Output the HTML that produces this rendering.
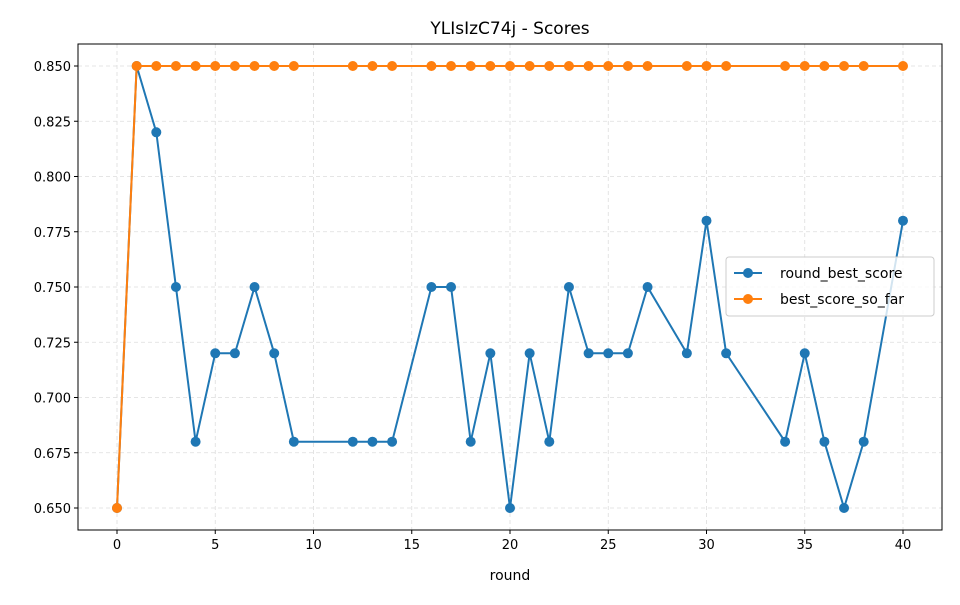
<!DOCTYPE html>
<html><head><meta charset="utf-8"><style>
body{margin:0;background:#fff;font-family:"Liberation Sans","DejaVu Sans",sans-serif}
svg text{font-family:"DejaVu Sans","Liberation Sans",sans-serif;fill:#000}
</style></head><body>
<svg id="chart" width="960" height="600"></svg>
<script>
const rounds=[0,1,2,3,4,5,6,7,8,9,12,13,14,16,17,18,19,20,21,22,23,24,25,26,27,29,30,31,34,35,36,37,38,40];
const roundBest=[0.65,0.85,0.82,0.75,0.68,0.72,0.72,0.75,0.72,0.68,0.68,0.68,0.68,0.75,0.75,0.68,0.72,0.65,0.72,0.68,0.75,0.72,0.72,0.72,0.75,0.72,0.78,0.72,0.68,0.72,0.68,0.65,0.68,0.78];
const bestSoFar=[0.65,0.85,0.85,0.85,0.85,0.85,0.85,0.85,0.85,0.85,0.85,0.85,0.85,0.85,0.85,0.85,0.85,0.85,0.85,0.85,0.85,0.85,0.85,0.85,0.85,0.85,0.85,0.85,0.85,0.85,0.85,0.85,0.85,0.85];
const xTicks=[0,5,10,15,20,25,30,35,40];
const yTicks=[0.65,0.675,0.7,0.725,0.75,0.775,0.8,0.825,0.85];
const L=78,R=942,T=44,B=530;
const X=v=>117+(v-0)*(903-117)/40;
const Y=v=>508-(v-0.65)*(508-66)/0.2;
const svg=document.getElementById('chart');
const NS='http://www.w3.org/2000/svg';
function mk(t,a,p){const e=document.createElementNS(NS,t);for(const k in a)e.setAttribute(k,a[k]);(p||svg).appendChild(e);return e;}
let e;
e=mk('text',{x:510,y:34,'text-anchor':'middle','font-size':17});e.textContent='YLIsIzC74j - Scores';


xTicks.forEach(t=>{const x=X(t);
e=mk('line',{x1:x,x2:x,y1:T,y2:B,stroke:'#ddd','stroke-dasharray':'4,3','stroke-width':0.8});


mk('line',{x1:x,x2:x,y1:B,y2:B+4,stroke:'#000'});
e=mk('text',{x:x,y:B+19,'text-anchor':'middle','font-size':13});e.textContent=t;

});
yTicks.forEach(t=>{const y=Y(t);
e=mk('line',{x1:L,x2:R,y1:y,y2:y,stroke:'#ddd','stroke-dasharray':'4,3','stroke-width':0.8});


mk('line',{x1:L-4,x2:L,y1:y,y2:y,stroke:'#000'});
e=mk('text',{x:L-7,y:y+5,'text-anchor':'end','font-size':13});e.textContent=t.toFixed(3);

});
e=mk('rect',{x:L,y:T,width:R-L,height:B-T,fill:'none',stroke:'#000','stroke-width':1});


e=mk('text',{x:510,y:580,'text-anchor':'middle','font-size':14});e.textContent='round';


function series(vals,color,name){
const g=mk('g',{});


mk('polyline',{points:rounds.map((r,i)=>X(r)+','+Y(vals[i])).join(' '),fill:'none',stroke:color,'stroke-width':2},g);
rounds.forEach((r,i)=>{const c=mk('circle',{cx:X(r),cy:Y(vals[i]),r:5,fill:color},g);

});}
series(roundBest,'#1f77b4','round-best-score');
series(bestSoFar,'#ff7f0e','best-score-so-far');
const lg=mk('g',{});


mk('rect',{x:726,y:257,width:208,height:59,rx:3,fill:'#fff','fill-opacity':0.8,stroke:'#ccc'},lg);
[['round_best_score','#1f77b4',273],['best_score_so_far','#ff7f0e',299]].forEach(([n,c,y])=>{
const g=mk('g',{},lg);


mk('line',{x1:734,x2:762,y1:y,y2:y,stroke:c,'stroke-width':2},g);
mk('circle',{cx:748,cy:y,r:5,fill:c},g);
const t=mk('text',{x:780,y:y+5,'font-size':14},g);t.textContent=n;});
</script>
</body></html>
